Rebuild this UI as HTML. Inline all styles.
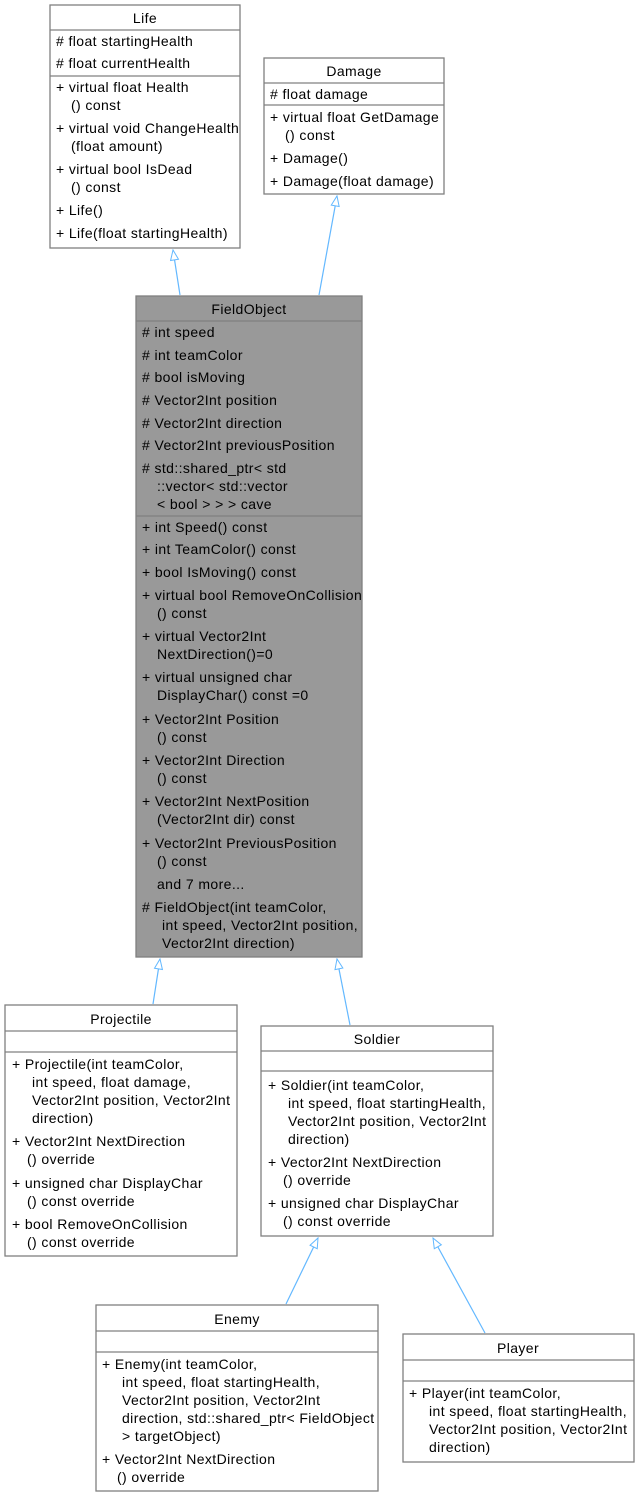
<!DOCTYPE html>
<html><head><meta charset="utf-8"><style>
html,body{margin:0;padding:0;background:#fff}
svg{display:block}
text{font-family:"Liberation Sans","DejaVu Sans",sans-serif;font-size:14px;letter-spacing:0.4px;fill:#000}
.t{text-anchor:middle}
</style></head><body>
<svg width="640" height="1497" viewBox="0 0 640 1497" xmlns="http://www.w3.org/2000/svg">
<defs>
<marker id="a" markerWidth="12" markerHeight="10" refX="11" refY="5" orient="auto" markerUnits="userSpaceOnUse">
<path d="M1,1 L11,5 L1,9 Z" fill="#fff" stroke="#63b8ff" stroke-width="1"/>
</marker>
</defs>
<g stroke="#63b8ff" stroke-width="1.2" fill="none">
<line x1="180" y1="295" x2="173" y2="250" marker-end="url(#a)"/>
<line x1="319" y1="295" x2="337" y2="196" marker-end="url(#a)"/>
<line x1="153" y1="1004" x2="160" y2="959" marker-end="url(#a)"/>
<line x1="350" y1="1025" x2="337" y2="959" marker-end="url(#a)"/>
<line x1="286" y1="1304" x2="318" y2="1238" marker-end="url(#a)"/>
<line x1="485" y1="1333" x2="433" y2="1238" marker-end="url(#a)"/>
</g>
<g stroke="#808080" stroke-width="1.3">
<rect x="50" y="5" width="190" height="243" fill="#fff"/>
<line x1="50" y1="30" x2="240" y2="30"/><line x1="50" y1="76" x2="240" y2="76"/>
<rect x="264" y="58" width="180" height="136" fill="#fff"/>
<line x1="264" y1="83" x2="444" y2="83"/><line x1="264" y1="105" x2="444" y2="105"/>
<rect x="136" y="296" width="226" height="661" fill="#999"/>
<line x1="136" y1="321" x2="362" y2="321"/><line x1="136" y1="516" x2="362" y2="516"/>
<rect x="5" y="1005" width="232" height="251" fill="#fff"/>
<line x1="5" y1="1031" x2="237" y2="1031"/><line x1="5" y1="1052" x2="237" y2="1052"/>
<rect x="261" y="1026" width="232" height="210" fill="#fff"/>
<line x1="261" y1="1051" x2="493" y2="1051"/><line x1="261" y1="1071" x2="493" y2="1071"/>
<rect x="96" y="1305" width="282" height="186" fill="#fff"/>
<line x1="96" y1="1331" x2="378" y2="1331"/><line x1="96" y1="1352" x2="378" y2="1352"/>
<rect x="403" y="1334" width="231" height="128" fill="#fff"/>
<line x1="403" y1="1360" x2="634" y2="1360"/><line x1="403" y1="1381" x2="634" y2="1381"/>
</g>
<!-- Life -->
<text class="t" x="145" y="23">Life</text>
<text x="56" y="46"># float startingHealth</text>
<text x="56" y="68"># float currentHealth</text>
<text x="56" y="92">+ virtual float Health</text>
<text x="71" y="110">() const</text>
<text x="56" y="133">+ virtual void ChangeHealth</text>
<text x="71" y="151">(float amount)</text>
<text x="56" y="174">+ virtual bool IsDead</text>
<text x="71" y="192">() const</text>
<text x="56" y="215">+ Life()</text>
<text x="56" y="238">+ Life(float startingHealth)</text>
<!-- Damage -->
<text class="t" x="354" y="76">Damage</text>
<text x="270" y="99"># float damage</text>
<text x="270" y="122">+ virtual float GetDamage</text>
<text x="285" y="140">() const</text>
<text x="270" y="163">+ Damage()</text>
<text x="270" y="186">+ Damage(float damage)</text>
<!-- FieldObject -->
<text class="t" x="249" y="314">FieldObject</text>
<text x="142" y="337"># int speed</text>
<text x="142" y="360"># int teamColor</text>
<text x="142" y="382"># bool isMoving</text>
<text x="142" y="405"># Vector2Int position</text>
<text x="142" y="428"># Vector2Int direction</text>
<text x="142" y="450"># Vector2Int previousPosition</text>
<text x="142" y="473"># std::shared_ptr&lt; std</text>
<text x="157" y="491">::vector&lt; std::vector</text>
<text x="157" y="509">&lt; bool &gt; &gt; &gt; cave</text>
<text x="142" y="532">+ int Speed() const</text>
<text x="142" y="554">+ int TeamColor() const</text>
<text x="142" y="577">+ bool IsMoving() const</text>
<text x="142" y="600">+ virtual bool RemoveOnCollision</text>
<text x="157" y="618">() const</text>
<text x="142" y="641">+ virtual Vector2Int</text>
<text x="157" y="659">NextDirection()=0</text>
<text x="142" y="682">+ virtual unsigned char</text>
<text x="157" y="700">DisplayChar() const =0</text>
<text x="142" y="724">+ Vector2Int Position</text>
<text x="157" y="742">() const</text>
<text x="142" y="765">+ Vector2Int Direction</text>
<text x="157" y="783">() const</text>
<text x="142" y="806">+ Vector2Int NextPosition</text>
<text x="157" y="824">(Vector2Int dir) const</text>
<text x="142" y="848">+ Vector2Int PreviousPosition</text>
<text x="157" y="866">() const</text>
<text x="157" y="889">and 7 more...</text>
<text x="142" y="912"># FieldObject(int teamColor,</text>
<text x="162" y="930">int speed, Vector2Int position,</text>
<text x="162" y="948">Vector2Int direction)</text>
<!-- Projectile -->
<text class="t" x="121" y="1024">Projectile</text>
<text x="12" y="1069">+ Projectile(int teamColor,</text>
<text x="32" y="1087">int speed, float damage,</text>
<text x="32" y="1105">Vector2Int position, Vector2Int</text>
<text x="32" y="1123">direction)</text>
<text x="12" y="1146">+ Vector2Int NextDirection</text>
<text x="27" y="1164">() override</text>
<text x="12" y="1188">+ unsigned char DisplayChar</text>
<text x="27" y="1206">() const override</text>
<text x="12" y="1229">+ bool RemoveOnCollision</text>
<text x="27" y="1247">() const override</text>
<!-- Soldier -->
<text class="t" x="377" y="1044">Soldier</text>
<text x="268" y="1090">+ Soldier(int teamColor,</text>
<text x="288" y="1108">int speed, float startingHealth,</text>
<text x="288" y="1126">Vector2Int position, Vector2Int</text>
<text x="288" y="1144">direction)</text>
<text x="268" y="1167">+ Vector2Int NextDirection</text>
<text x="283" y="1185">() override</text>
<text x="268" y="1208">+ unsigned char DisplayChar</text>
<text x="283" y="1226">() const override</text>
<!-- Enemy -->
<text class="t" x="237" y="1324">Enemy</text>
<text x="102" y="1369">+ Enemy(int teamColor,</text>
<text x="122" y="1387">int speed, float startingHealth,</text>
<text x="122" y="1405">Vector2Int position, Vector2Int</text>
<text x="122" y="1423">direction, std::shared_ptr&lt; FieldObject</text>
<text x="122" y="1441">&gt; targetObject)</text>
<text x="102" y="1464">+ Vector2Int NextDirection</text>
<text x="117" y="1482">() override</text>
<!-- Player -->
<text class="t" x="518" y="1353">Player</text>
<text x="409" y="1398">+ Player(int teamColor,</text>
<text x="429" y="1416">int speed, float startingHealth,</text>
<text x="429" y="1434">Vector2Int position, Vector2Int</text>
<text x="429" y="1452">direction)</text>
</svg>
</body></html>
